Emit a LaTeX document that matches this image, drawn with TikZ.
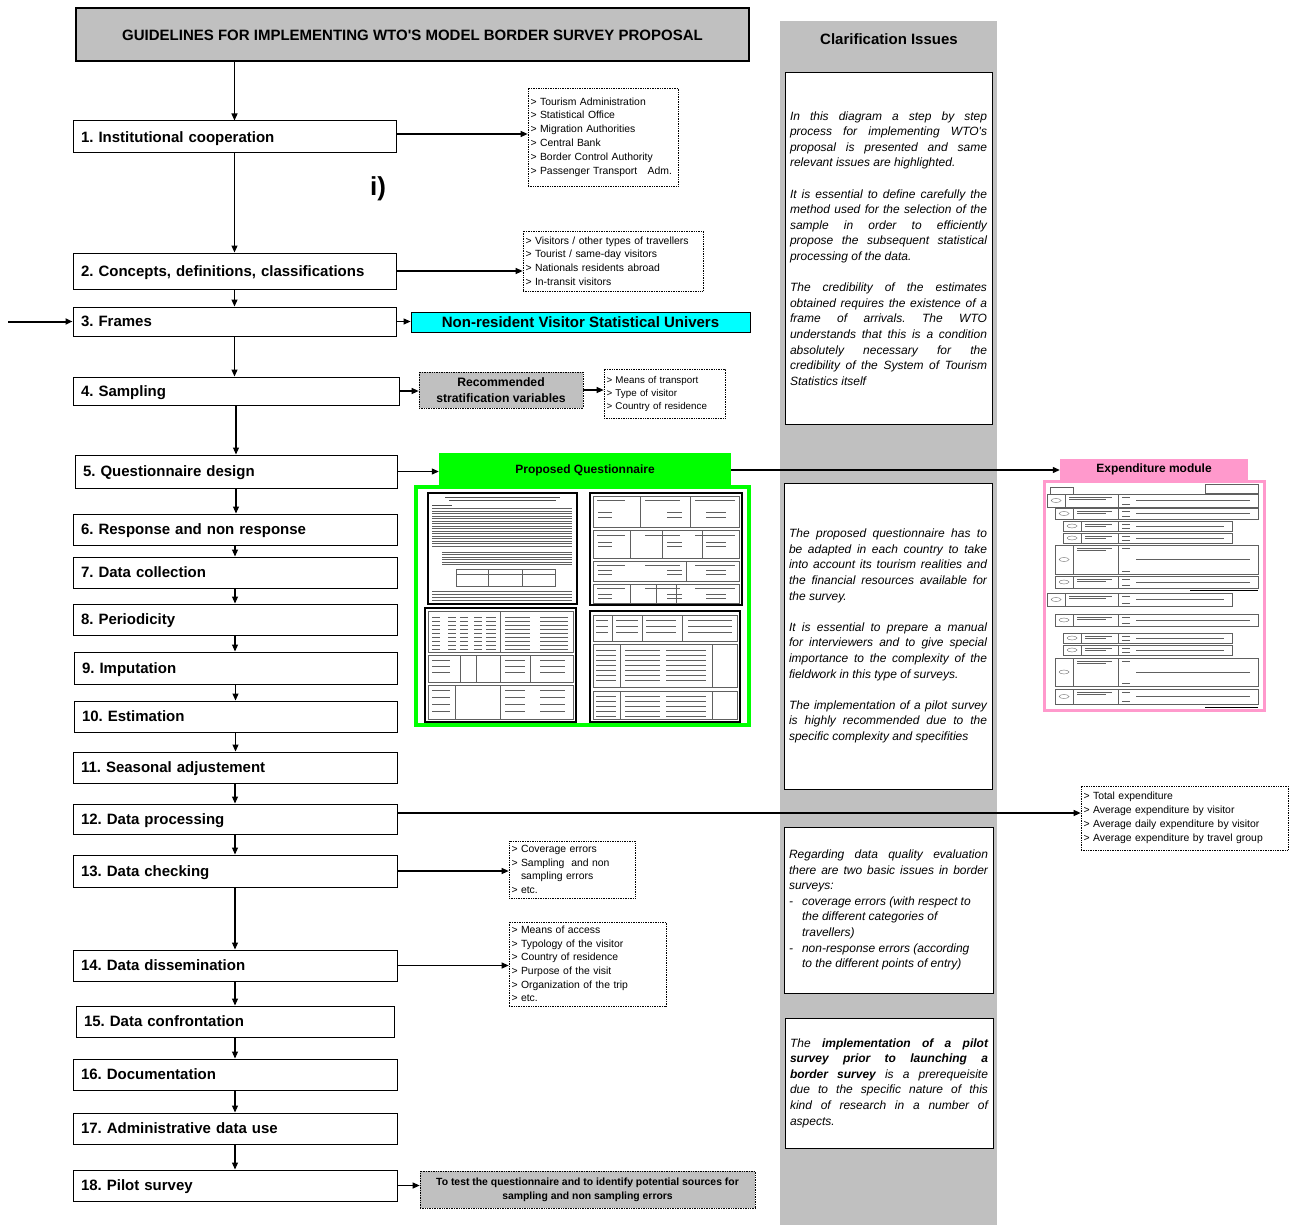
\documentclass[tikz,border=0pt]{standalone}
\usepackage{fontspec}
\setmainfont{Liberation Sans}
\usetikzlibrary{arrows.meta}
\definecolor{bggray}{HTML}{C0C0C0}
\definecolor{pinkm}{HTML}{FF99CC}
\definecolor{greenq}{HTML}{00FF00}
\definecolor{cyanb}{HTML}{00FFFF}
\frenchspacing
\begin{document}
\frenchspacing
\begin{tikzpicture}[x=1pt,y=-1pt,
  stepsty/.style={draw=black, line width=1pt, fill=white, inner xsep=8pt, inner ysep=0pt, align=left, text height=10.8pt, text depth=0pt, font=\bfseries\fontsize{15}{18}\selectfont},
  liststy/.style={draw=black, densely dotted, line width=0.7pt, fill=white, inner xsep=2.5pt, inner ysep=0pt, align=left, font=\fontsize{10.4}{13.8}\selectfont},
  notesty/.style={draw=black, line width=1pt, fill=white, inner xsep=5pt, inner ysep=0pt, align=justify, font=\itshape\fontsize{12}{15.6}\selectfont},
  arr/.style={-{Triangle[length=7pt,width=6pt]}, line width=1.1pt},
  thumb/.style={draw=black, line width=1.3pt, fill=white},
  fine/.style={draw=gray!75!black, line width=0.35pt}]
\useasboundingbox (0,0) rectangle (1297,1225);
\fill[white] (0,0) rectangle (1297,1225);

% clarification column
\fill[bggray] (780,21) rectangle (997,1225);
\node[font=\bfseries\fontsize{15}{18}\selectfont] (clar) at (889,39) {Clarification Issues};

% title
\node[draw=black, line width=1.2pt, fill=bggray, minimum width=673pt, minimum height=53pt, inner sep=0pt, text height=13pt, text depth=0pt,
  font=\bfseries\fontsize{15}{18}\selectfont] (title) at (412.5,34.5) {GUIDELINES FOR IMPLEMENTING WTO\textquotesingle S MODEL BORDER SURVEY PROPOSAL};

% steps
\node[stepsty, text width=307pt, minimum height=32pt] (s1) at (234.5,137) {1. Institutional cooperation};
\node[stepsty, text width=307pt, minimum height=36pt] (s2) at (234.5,271) {2. Concepts, definitions, classifications};
\node[stepsty, text width=307pt, minimum height=29pt] (s3) at (234.5,321.5) {3. Frames};
\node[stepsty, text width=310pt, minimum height=28pt] (s4) at (236,391) {4. Sampling};
\node[stepsty, text width=306pt, minimum height=33pt] (s5) at (236,471.5) {5. Questionnaire design};
\node[stepsty, text width=308pt, minimum height=31pt] (s6) at (235,529.5) {6. Response and non response};
\node[stepsty, text width=308pt, minimum height=31pt] (s7) at (235,572.5) {7. Data collection};
\node[stepsty, text width=308pt, minimum height=31pt] (s8) at (235,619.5) {8. Periodicity};
\node[stepsty, text width=307pt, minimum height=32pt] (s9) at (235.5,668) {9. Imputation};
\node[stepsty, text width=307pt, minimum height=31pt] (s10) at (235.5,716.5) {10. Estimation};
\node[stepsty, text width=308pt, minimum height=31pt] (s11) at (235,767.5) {11. Seasonal adjustement};
\node[stepsty, text width=308pt, minimum height=30pt] (s12) at (235,819) {12. Data processing};
\node[stepsty, text width=308pt, minimum height=32pt] (s13) at (235,871) {13. Data checking};
\node[stepsty, text width=308pt, minimum height=31pt] (s14) at (235,965.5) {14. Data dissemination};
\node[stepsty, text width=302pt, minimum height=31pt] (s15) at (235,1021.5) {15. Data confrontation};
\node[stepsty, text width=308pt, minimum height=31pt] (s16) at (235,1074.5) {16. Documentation};
\node[stepsty, text width=308pt, minimum height=31pt] (s17) at (235,1128.5) {17. Administrative data use};
\node[stepsty, text width=308pt, minimum height=31pt] (s18) at (235,1185.5) {18. Pilot survey};

\node[font=\bfseries\fontsize{26}{30}\selectfont, inner sep=0pt] (ilabel) at (378,189) {i)};

% side lists
\node[liststy, text width=145pt, minimum height=98pt] (l1) at (603,137) {> Tourism Administration\\> Statistical Office\\> Migration Authorities\\> Central Bank\\> Border Control Authority\\> Passenger Transport\ \ \ Adm.};
\node[liststy, text width=175pt, minimum height=60pt] (l2) at (613,261) {> Visitors / other types of travellers\\> Tourist / same-day visitors\\> Nationals residents abroad\\> In-transit visitors};
\node[draw=black, line width=0.8pt, fill=cyanb, minimum width=339pt, minimum height=20pt, inner sep=0pt,
  font=\bfseries\fontsize{15}{18}\selectfont] (cy) at (580.5,322) {Non-resident Visitor Statistical Univers};
\node[draw=black, densely dotted, line width=0.7pt, fill=bggray, minimum width=164pt, minimum height=36pt, inner sep=0pt, align=center,
  font=\bfseries\fontsize{12.2}{16}\selectfont] (rec) at (501,390) {Recommended\\stratification variables};
\node[liststy, text width=116pt, minimum height=49pt, font=\fontsize{9.8}{13}\selectfont] (l3) at (664.5,393.5) {> Means of transport\\> Type of visitor\\> Country of residence};
\node[liststy, text width=202pt, minimum height=64pt] (l4) at (1184.5,818) {> Total expenditure\\> Average expenditure by visitor\\> Average daily expenditure by visitor\\> Average expenditure by travel group};
\node[liststy, text width=121pt, minimum height=57pt, font=\fontsize{10.4}{13.7}\selectfont] (l5) at (572,869.5) {> Coverage errors\\> Sampling\ \ and non\\\phantom{> }sampling errors\\> etc.};
\node[liststy, text width=152pt, minimum height=84pt, font=\fontsize{10.4}{13.6}\selectfont] (l6) at (587.5,964) {> Means of access\\> Typology of the visitor\\> Country of residence\\> Purpose of the visit\\> Organization of the trip\\> etc.};
\node[draw=black, densely dotted, line width=0.7pt, fill=bggray, minimum width=335pt, minimum height=37pt, inner sep=0pt, align=center,
  font=\bfseries\fontsize{10.4}{14}\selectfont] (pb) at (587.5,1189.5) {To test the questionnaire and to identify potential sources for\\sampling and non sampling errors};

% proposed questionnaire
\node[draw=greenq, line width=4pt, fill=white, minimum width=333pt, minimum height=238pt] (qf) at (582.5,606) {};
\node[fill=greenq, minimum width=292pt, minimum height=34pt, inner sep=0pt, font=\bfseries\fontsize{12}{14}\selectfont] (pq) at (585,470) {Proposed Questionnaire};

% thumbnail 1 (text page)
\draw[thumb] (428,493) rectangle (577,604);
\draw[line width=0.7pt, gray!60!black] (445,497) -- (560,497) (449,500) -- (556,500);
\draw[line width=0.7pt, gray!60!black] (432,505) -- (452,505);
\foreach \yy in {508.5,511,...,548} \draw[fine] (432,\yy) -- (572,\yy);
\foreach \yy in {552,554.5,...,566} \draw[fine] (442,\yy) -- (572,\yy);
\draw[fine] (456,569) rectangle (555,586) (456,574) -- (555,574) (488,569) -- (488,586) (522,569) -- (522,586);
\foreach \yy in {591,594,597,600} \draw[fine] (432,\yy) -- (572,\yy);

% thumbnail 2 (form)
\draw[thumb] (590,493) rectangle (742,605);
\draw[fine] (593,496) rectangle (739,527) (640,496) -- (640,527) (690,496) -- (690,527);
\draw[fine] (593,530) rectangle (739,558) (630,530) -- (630,558) (662,530) -- (662,558) (702,530) -- (702,558);
\draw[fine] (593,561) rectangle (739,581) (686,561) -- (686,581);
\draw[fine] (593,584) rectangle (739,603) (630,584) -- (630,603) (656,584) -- (656,603) (676,584) -- (676,603);
\foreach \yy in {500,535,565,588} {\draw[fine] (597,\yy) -- (625,\yy) (645,\yy) -- (680,\yy) (695,\yy) -- (735,\yy);}
\foreach \yy in {512,517,542,546,570,574,594,598} {\draw[fine] (598,\yy) -- (612,\yy) (667,\yy) -- (682,\yy) (706,\yy) -- (726,\yy);}

% thumbnail 3
\draw[thumb] (425,608) rectangle (576,722);
\draw[fine] (428,611) rectangle (573,652) (500,611) -- (500,652);
\foreach \yy in {617,621,...,649} {\draw[fine] (432,\yy) -- (440,\yy) (448,\yy) -- (456,\yy) (460,\yy) -- (468,\yy) (474,\yy) -- (482,\yy) (486,\yy) -- (496,\yy) (505,\yy) -- (530,\yy) (540,\yy) -- (568,\yy);}
\draw[fine] (428,655) rectangle (573,682) (460,655) -- (460,682) (476,655) -- (476,682) (500,655) -- (500,682) (530,655) -- (530,682);
\draw[fine] (428,685) rectangle (573,719) (455,685) -- (455,719) (500,685) -- (500,719);
\foreach \yy in {660,666,672,690,697,704,711} {\draw[fine] (432,\yy) -- (450,\yy) (505,\yy) -- (525,\yy) (540,\yy) -- (565,\yy);}

% thumbnail 4
\draw[thumb] (590,611) rectangle (740,722);
\draw[fine] (593,615) rectangle (737,641) (612,615) -- (612,641) (642,615) -- (642,641) (682,615) -- (682,641);
\draw[fine] (593,644) rectangle (737,687) (620,644) -- (620,687) (712,644) -- (712,687);
\draw[fine] (593,691) rectangle (737,719) (620,691) -- (620,719) (712,691) -- (712,719);
\foreach \yy in {620,626,632} {\draw[fine] (596,\yy) -- (608,\yy) (616,\yy) -- (638,\yy) (646,\yy) -- (676,\yy) (688,\yy) -- (732,\yy);}
\foreach \yy in {650,655,...,684} {\draw[fine] (596,\yy) -- (616,\yy) (625,\yy) -- (660,\yy) (666,\yy) -- (706,\yy);}
\foreach \yy in {696,701,...,717} {\draw[fine] (596,\yy) -- (616,\yy) (625,\yy) -- (660,\yy) (666,\yy) -- (706,\yy);}

% expenditure module
\node[draw=pinkm, line width=3pt, fill=white, minimum width=220pt, minimum height=229pt] (ef) at (1154.5,596) {};
\node[fill=pinkm, minimum width=188pt, minimum height=21pt, inner sep=0pt, font=\bfseries\fontsize{12}{14}\selectfont] (em) at (1154,469.5) {Expenditure module};
\draw[fine] (1050,487) rectangle (1073,494) (1205,484) rectangle (1258,493);
\draw[line width=0.8pt] (1190,590) -- (1258,590) (1205,707) -- (1258,707);
\foreach \ya/\yb/\xa/\xb in {494/507/1047/1258, 508/519/1055/1258, 521/531/1063/1232, 533/543/1063/1232, 545/574/1055/1258, 576/588/1055/1258, 593/606/1047/1232, 614/626/1055/1258, 633/643/1063/1232, 645/655/1063/1232, 658/686/1055/1258, 689/704/1055/1258}{
  \draw[fine] (\xa,\ya) rectangle (\xb,\yb);
  \draw[fine] (\xa+18,\ya) -- (\xa+18,\yb) (1118,\ya) -- (1118,\yb);
  \draw[fine] (\xa+9,{(\ya+\yb)/2}) ellipse (5 and 2);
  \draw[fine] (\xa+22,\ya+3) -- (1112,\ya+3) (\xa+22,\ya+5.5) -- (1106,\ya+5.5);
  \draw[fine] (1122,\ya+3) -- (1130,\ya+3) (1122,\yb-3) -- (1130,\yb-3) (1136,{(\ya+\yb)/2}) -- (\xb-8,{(\ya+\yb)/2});
}

% clarification notes
\node[notesty, text width=197pt, minimum height=351pt] (na) at (888.5,248.5) {\parindent=0pt\tolerance=10000\hyphenpenalty=10000\frenchspacing
In this diagram a step by step\linebreak process for implementing WTO\textquotesingle s\linebreak proposal is presented and same\linebreak relevant issues are highlighted.\par\vspace{15.6pt}
It is essential to define carefully the\linebreak method used for the selection of the\linebreak sample in order to efficiently\linebreak propose the subsequent statistical\linebreak processing of the data.\par\vspace{15.6pt}
The credibility of the estimates\linebreak obtained requires the existence of a\linebreak frame of arrivals. The WTO\linebreak understands that this is a condition\linebreak absolutely necessary for the\linebreak credibility of the System of Tourism\linebreak Statistics itself};
\node[notesty, text width=198pt, minimum height=306pt] (nb) at (888,636) {\parindent=0pt\tolerance=10000\hyphenpenalty=10000\frenchspacing
The proposed questionnaire has to\linebreak be adapted in each country to take\linebreak into account its tourism realities and\linebreak the financial resources available for\linebreak the survey.\par\vspace{15.6pt}
It is essential to prepare a manual\linebreak for interviewers and to give special\linebreak importance to the complexity of the\linebreak fieldwork in this type of surveys.\par\vspace{15.6pt}
The implementation of a pilot survey\linebreak is highly recommended due to the\linebreak specific complexity and specifities};
\node[notesty, text width=199pt, minimum height=166pt] (nc) at (888.5,910) {\parindent=0pt\tolerance=10000\hyphenpenalty=10000\frenchspacing
Regarding data quality evaluation\linebreak there are two basic issues in border\linebreak surveys:\par
\makebox[13pt][l]{-}coverage errors (with respect to\par
\hspace*{13pt}the different categories of\par
\hspace*{13pt}travellers)\par
\makebox[13pt][l]{-}non-response errors (according\par
\hspace*{13pt}to the different points of entry)};
\node[notesty, text width=198pt, minimum height=130pt] (nd) at (889,1083) {\parindent=0pt\tolerance=10000\hyphenpenalty=10000\frenchspacing
The \textbf{implementation of a pilot}\linebreak \textbf{survey prior to launching a}\linebreak \textbf{border survey} is a prerequeisite\linebreak due to the specific nature of this\linebreak kind of research in a number of\linebreak aspects.};

% connectors
\draw[arr] (title.south -| s1.north) -- (s1.north);
\foreach \a/\b in {s1/s2, s2/s3, s3/s4, s4/s5, s5/s6, s6/s7, s7/s8, s8/s9, s9/s10, s10/s11, s11/s12, s12/s13, s13/s14, s14/s15, s15/s16, s16/s17, s17/s18}
  \draw[arr] (\a.south) -- (\a.south |- \b.north);
\draw[arr] ([yshift=3pt]s1.east) -- ([yshift=3pt]s1.east -| l1.west);
\draw[arr] (s2.east) -- (s2.east -| l2.west);
\coordinate (fin) at (8,321.5);
\draw[arr, line width=2pt] (fin) -- (s3.west);
\draw[arr] (s3.east) -- (s3.east -| cy.west);
\draw[arr] (s4.east) -- (s4.east -| rec.west);
\draw[arr] (rec.east) -- (rec.east -| l3.west);
\draw[arr] (s5.east) -- (s5.east -| pq.west);
\draw[arr] (pq.east) -- (pq.east -| em.west);
\draw[arr] ([yshift=6pt]s12.east) -- ([yshift=6pt]s12.east -| l4.west);
\draw[arr] (s13.east) -- (s13.east -| l5.west);
\draw[arr] (s14.east) -- (s14.east -| l6.west);
\draw[arr] (s18.east) -- (s18.east -| pb.west);
\end{tikzpicture}
\end{document}
